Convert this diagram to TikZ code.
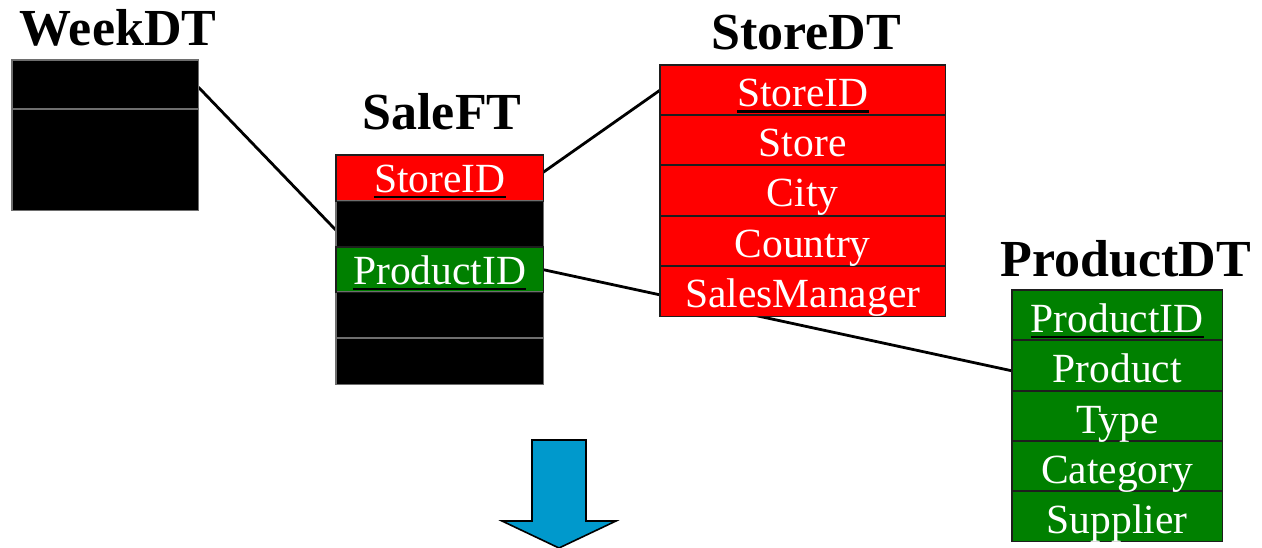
\documentclass[tikz,border=0pt]{standalone}
\usepackage{fontspec}
\setmainfont{Liberation Serif}
\usetikzlibrary{calc,backgrounds}

\definecolor{keyred}{RGB}{255,0,0}
\definecolor{keygreen}{RGB}{0,128,0}
\definecolor{arrowblue}{RGB}{0,153,204}
\definecolor{cellline}{RGB}{30,30,30}
\definecolor{darkline}{RGB}{110,110,110}

\tikzset{
  cell/.style={inner sep=0pt, anchor=north west},
  cellborder/.style={draw=cellline, line width=1.3pt},
  darkborder/.style={draw=darkline, line width=1.2pt},
  celltext/.style={text=white, inner sep=0pt, anchor=base,
    font=\fontsize{41.5}{41.5}\selectfont},
  tabletitle/.style={inner sep=0pt, anchor=base,
    font=\fontsize{52}{52}\bfseries\selectfont},
  keyline/.style={draw=black, line width=2.6pt},
  link/.style={draw=black, line width=2.8pt},
  bigarrow/.style={draw=black, line width=1.6pt, fill=arrowblue, line join=miter}
}

% \dbcell{name}{x}{y}{width}{height}{fill}
\newcommand\dbcell[6]{%
  \node[cell, fill=#6, minimum width=#4pt, minimum height=#5pt] (#1) at (#2,#3) {};}
% outline of a cell, drawn after all fills
\newcommand\cellframe[2]{%
  \draw[#2] (#1.north west) rectangle (#1.south east);}
% underline of a key attribute
\newcommand\keymark[2]{%
  \draw[keyline] ([yshift=-#2pt]#1t.base west) -- ([yshift=-#2pt]#1t.base east);}

\begin{document}
\begin{tikzpicture}[x=1pt,y=-1pt]
\useasboundingbox (0,0) rectangle (1262,548);

% ---- titles
\node[tabletitle] (weektitle)  at (118,46)  {WeekDT};
\node[tabletitle] (saletitle)  at (442,130) {SaleFT};
\node[tabletitle] (storetitle) at (806,50)  {StoreDT};
\node[tabletitle] (prodtitle)  at (1126,277) {ProductDT};

% ---- WeekDT
\dbcell{w1}{12}{60}{186}{49}{black}
\dbcell{w2}{12}{109}{186}{101}{black}

% ---- SaleFT
\dbcell{f1}{336}{155}{207}{46}{keyred}
\dbcell{f2}{336}{201}{207}{46}{black}
\dbcell{f3}{336}{247}{207}{45}{keygreen}
\dbcell{f4}{336}{292}{207}{46}{black}
\dbcell{f5}{336}{338}{207}{46}{black}

% ---- StoreDT
\dbcell{s1}{660}{65}{285}{50}{keyred}
\dbcell{s2}{660}{115}{285}{50}{keyred}
\dbcell{s3}{660}{165}{285}{51}{keyred}
\dbcell{s4}{660}{216}{285}{50}{keyred}
\dbcell{s5}{660}{266}{285}{50}{keyred}

% ---- ProductDT
\dbcell{p1}{1012}{290}{210}{50}{keygreen}
\dbcell{p2}{1012}{340}{210}{51}{keygreen}
\dbcell{p3}{1012}{391}{210}{50}{keygreen}
\dbcell{p4}{1012}{441}{210}{50}{keygreen}
\dbcell{p5}{1012}{491}{210}{50}{keygreen}

% ---- cell outlines
\foreach \c in {w1,w2,f2,f4,f5} {\cellframe{\c}{darkborder}}
\foreach \c in {f1,f3,s1,s2,s3,s4,s5,p1,p2,p3,p4,p5} {\cellframe{\c}{cellborder}}

% ---- attribute names
\node[celltext] (f1t) at ($(f1.north)+(0,38)$) {StoreID};
\node[celltext] (f3t) at ($(f3.north)+(0,38)$) {ProductID};
\node[celltext] (s1t) at ($(s1.north)+(0,42)$) {StoreID};
\node[celltext] (s2t) at ($(s2.north)+(0,42)$) {Store};
\node[celltext] (s3t) at ($(s3.north)+(0,42)$) {City};
\node[celltext] (s4t) at ($(s4.north)+(0,42)$) {Country};
\node[celltext] (s5t) at ($(s5.north)+(0,42)$) {SalesManager};
\node[celltext] (p1t) at ($(p1.north)+(0,42)$) {ProductID};
\node[celltext] (p2t) at ($(p2.north)+(0,42)$) {Product};
\node[celltext] (p3t) at ($(p3.north)+(0,42)$) {Type};
\node[celltext] (p4t) at ($(p4.north)+(0,42)$) {Category};
\node[celltext] (p5t) at ($(p5.north)+(0,42)$) {Supplier};
\keymark{f1}{4}
\keymark{f3}{4}
\keymark{s1}{4.5}
\keymark{p1}{5}

% ---- links between the fact table and its dimensions
\begin{pgfonlayer}{background}
  \draw[link] ($(w1.north east)!0.55!(w1.south east)$) -- ($(f2.north west)!0.63!(f2.south west)$);
  \draw[link] ($(f1.north east)!0.37!(f1.south east)$) -- (s1.west);
  \draw[link] (f3.east) -- ($(p2.north west)!0.6!(p2.south west)$);
\end{pgfonlayer}

% ---- downward arrow
\draw[bigarrow] (532,440) -- (586,440) -- (586,521) -- (616,521) -- (559,548)
  -- (502,521) -- (532,521) -- cycle;
\end{tikzpicture}
\end{document}
